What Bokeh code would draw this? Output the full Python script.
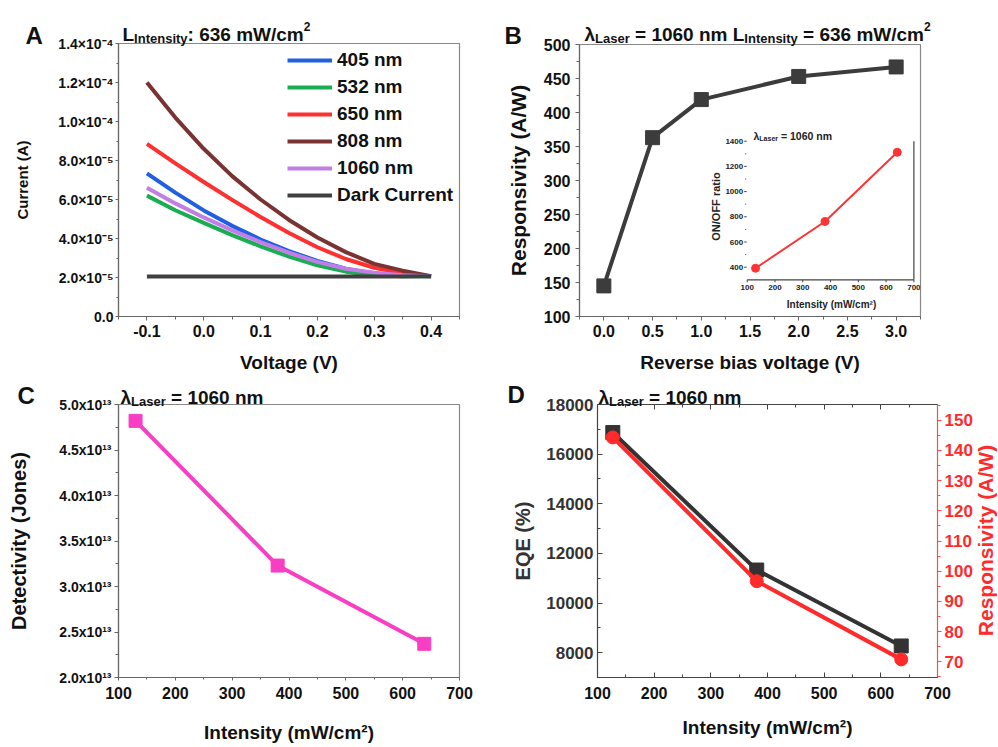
import math
from bokeh.plotting import figure
from bokeh.models import (Label, Range1d, FixedTicker, CustomJSTickFormatter,
                          LinearAxis, Legend, LegendItem, GridBox)
from bokeh.embed import file_html
from bokeh.resources import INLINE
from bokeh.core.properties import value

FONT = "Liberation Sans"

# ---------------- data ----------------
# Panel A: I-V curves at 636 mW/cm2
voltage = [-0.10, -0.05, 0.00, 0.05, 0.10, 0.15, 0.20, 0.25, 0.30, 0.35, 0.40]
current_405 = [7.34e-5, 6.35e-5, 5.44e-5, 4.65e-5, 3.95e-5, 3.35e-5, 2.85e-5, 2.45e-5, 2.20e-5, 2.10e-5, 2.07e-5]
current_532 = [6.20e-5, 5.45e-5, 4.80e-5, 4.17e-5, 3.60e-5, 3.07e-5, 2.63e-5, 2.30e-5, 2.12e-5, 2.07e-5, 2.06e-5]
current_650 = [8.85e-5, 7.85e-5, 6.90e-5, 5.98e-5, 5.10e-5, 4.28e-5, 3.55e-5, 2.95e-5, 2.50e-5, 2.22e-5, 2.07e-5]
current_808 = [1.20e-4, 1.02e-4, 8.60e-5, 7.20e-5, 6.00e-5, 4.95e-5, 4.05e-5, 3.30e-5, 2.70e-5, 2.35e-5, 2.07e-5]
current_1060 = [6.60e-5, 5.80e-5, 5.08e-5, 4.42e-5, 3.82e-5, 3.27e-5, 2.80e-5, 2.45e-5, 2.25e-5, 2.12e-5, 2.07e-5]
current_dark = [2.05e-5, 2.05e-5, 2.05e-5, 2.05e-5, 2.05e-5, 2.05e-5, 2.05e-5, 2.05e-5, 2.05e-5, 2.05e-5, 2.06e-5]
series_names = ["405 nm", "532 nm", "650 nm", "808 nm", "1060 nm", "Dark Current"]

# Panel B: responsivity vs reverse bias, inset ON/OFF ratio
bias = [0.0, 0.5, 1.0, 2.0, 3.0]
resp_bias = [145, 363, 419, 453, 467]
inset_intensity = [130, 380, 640]
onoff_ratio = [392, 763, 1312]

# Panel C: detectivity vs intensity
intensity_c = [130, 380, 638]
detectivity = [4.82e13, 3.23e13, 2.37e13]

# Panel D: EQE and responsivity vs intensity
intensity_d = [127, 381, 636]
eqe = [16870, 11330, 8270]
resp_intensity = [144.3, 96.7, 70.8]

# tick labels
a_xticks = [-0.1, 0.0, 0.1, 0.2, 0.3, 0.4]
a_xlabels = ["-0.1", "0.0", "0.1", "0.2", "0.3", "0.4"]
a_yticks = [0.0, 2e-5, 4e-5, 6e-5, 8e-5, 1e-4, 1.2e-4, 1.4e-4]
a_ylabels = ["0.0", "2.0×10⁻⁵", "4.0×10⁻⁵", "6.0×10⁻⁵", "8.0×10⁻⁵",
             "1.0×10⁻⁴", "1.2×10⁻⁴", "1.4×10⁻⁴"]
b_xticks = [0.0, 0.5, 1.0, 1.5, 2.0, 2.5, 3.0]
b_xlabels = ["0.0", "0.5", "1.0", "1.5", "2.0", "2.5", "3.0"]
b_yticks = [100, 150, 200, 250, 300, 350, 400, 450, 500]
b_ylabels = ["100", "150", "200", "250", "300", "350", "400", "450", "500"]
in_xticks = [100, 200, 300, 400, 500, 600, 700]
in_xlabels = ["100", "200", "300", "400", "500", "600", "700"]
in_yticks = [400, 600, 800, 1000, 1200, 1400]
in_ylabels = ["400", "600", "800", "1000", "1200", "1400"]
in_yminor = [500, 700, 900, 1100, 1300]
int_ticks = [100, 200, 300, 400, 500, 600, 700]
int_labels = ["100", "200", "300", "400", "500", "600", "700"]
c_yticks = [2.0e13, 2.5e13, 3.0e13, 3.5e13, 4.0e13, 4.5e13, 5.0e13]
c_ylabels = ["2.0x10¹³", "2.5x10¹³", "3.0x10¹³", "3.5x10¹³", "4.0x10¹³", "4.5x10¹³", "5.0x10¹³"]
d_yticks = [8000, 10000, 12000, 14000, 16000, 18000]
d_ylabels = ["8000", "10000", "12000", "14000", "16000", "18000"]
d_rticks = [70, 80, 90, 100, 110, 120, 130, 140, 150]
d_rlabels = ["70", "80", "90", "100", "110", "120", "130", "140", "150"]

# ---------------- layout constants ----------------
A_X, A_Y = (-0.15, 0.45), (0.0, 1.4e-4)
B_X, B_Y = (-0.25, 3.25), (100, 500)
C_X, C_Y = (100, 700), (2.0e13, 5.0e13)
D_X, D_Y, D_R = (100, 700), (7000, 18000), (64.8, 155.2)

FR_A = (118, 459, 43, 316)
FR_B = (579, 920, 44, 316)
FR_C = (118, 459, 404, 677)
FR_D = (597, 937, 404, 677)
TOP_H, BOT_H, LEFT_W, RIGHT_W = 378, 368, 480, 517

W = {' ': 278, ':': 333, '=': 584, '/': 278, '(': 333, ')': 333, '.': 278,
     'A': 722, 'B': 722, 'C': 722, 'D': 722, 'E': 667, 'F': 611, 'I': 278,
     'J': 556, 'L': 611, 'N': 722, 'O': 778, 'Q': 778, 'R': 722, 'V': 667,
     'W': 944, 'a': 556, 'b': 611, 'c': 556, 'e': 556, 'g': 611, 'i': 278,
     'l': 278, 'm': 889, 'n': 611, 'o': 611, 'r': 389, 's': 556, 't': 333,
     'y': 556, 'λ': 556}


def tw(s, size):
    return sum(W.get(ch, 556) for ch in s) * size / 1000.0


def to_data(frame, xr, yr, ax, ay):
    L, R, T, B = frame
    return (xr[0] + (ax - L) * (xr[1] - xr[0]) / (R - L),
            yr[0] + (B - ay) * (yr[1] - yr[0]) / (B - T))


def add_text(p, x, y, txt, size, color="#111111", align="left",
             baseline="alphabetic", angle=0.0, **kw):
    p.add_layout(Label(x=x, y=y, text=txt, text_font=FONT, text_font_style="bold",
                       text_font_size=f"{size}px", text_color=color,
                       text_align=align, text_baseline=baseline, angle=angle, **kw))


def rich(p, x0, base, parts, color="#111111", conv=None):
    x = x0
    for txt, size, dy in parts:
        lead = len(txt) - len(txt.lstrip())
        x += tw(" " * lead, size)
        core = txt.strip()
        px, py = (x, base + dy) if conv is None else conv(x, base + dy)
        add_text(p, px, py, core, size, color=color)
        x += tw(txt.lstrip(), size)


def fmt(ticks, labels):
    return CustomJSTickFormatter(args=dict(t=list(ticks), l=list(labels)), code="""
const i = t.findIndex(v => v === tick || Math.abs(v - tick) <= 1e-9 * Math.abs(v));
return i >= 0 ? l[i] : "";
""")


def make_fig(w, h, origin, frame, xr, yr, outline="#888888"):
    ox, oy = origin
    L, R, T, B = frame
    p = figure(width=w, height=h, x_range=Range1d(*xr), y_range=Range1d(*yr),
               output_backend="svg", toolbar_location=None, tools="",
               min_border_left=L - ox, min_border_right=ox + w - R,
               min_border_top=T - oy, min_border_bottom=oy + h - B)
    p.frame_align = False
    p.grid.visible = False
    p.outline_line_color = outline
    p.outline_line_width = 1.2
    p.background_fill_color = "white"
    p.border_fill_color = "white"
    return p


def style_axis(ax, ticks, labels, minor, size, color="#111111", line="#666666",
               tin=0, tout=4, mtin=0, mtout=3, stand=4, label=None, lsize=19,
               lstand=10, lcolor=None):
    ax.ticker = FixedTicker(ticks=list(ticks), minor_ticks=list(minor))
    ax.formatter = fmt(ticks, labels)
    ax.major_label_text_font = FONT
    ax.major_label_text_font_style = "bold"
    ax.major_label_text_font_size = f"{size}px"
    ax.major_label_text_color = color
    ax.axis_line_color = line
    ax.axis_line_width = 1.2
    ax.major_tick_line_color = line
    ax.minor_tick_line_color = line
    ax.major_tick_in = tin
    ax.major_tick_out = tout
    ax.minor_tick_in = mtin
    ax.minor_tick_out = mtout
    ax.major_label_standoff = stand
    if label is not None:
        ax.axis_label = label
        ax.axis_label_text_font = FONT
        ax.axis_label_text_font_style = "bold"
        ax.axis_label_text_font_size = f"{lsize}px"
        ax.axis_label_text_color = lcolor or color
        ax.axis_label_standoff = lstand


def frange(a, b, step):
    out = []
    v = a
    while v <= b + step * 1e-6:
        out.append(round(v, 12))
        v += step
    return out


# ---------------- Panel A ----------------
pa = make_fig(LEFT_W, TOP_H, (0, 0), FR_A, A_X, A_Y)
colors_a = ["#1f5fe0", "#1aad52", "#ff3030", "#7a3333", "#c27ee6", "#404040"]
series_a = [current_405, current_532, current_650, current_808, current_1060, current_dark]
items = []
for name, ys, col in zip(series_names, series_a, colors_a):
    r = pa.line(voltage, ys, line_color=col, line_width=4, line_join="round")
    items.append(LegendItem(label=name, renderers=[r]))
leg = Legend(items=items, location=(169, 110), label_text_font=FONT,
             label_text_font_style="bold", label_text_font_size="19px",
             label_text_color="#111111", border_line_color=None,
             background_fill_alpha=0, glyph_width=45, glyph_height=22,
             label_height=22, spacing=5, padding=0, margin=0, label_standoff=5)
pa.add_layout(leg)
style_axis(pa.xaxis[0], a_xticks, a_xlabels, frange(-0.15, 0.45, 0.05), 16,
           tout=4, mtout=3, stand=4, label="Voltage (V)", lsize=19, lstand=12)
style_axis(pa.yaxis[0], a_yticks, a_ylabels, frange(0, 1.4e-4, 1e-5), 14,
           tout=3, mtout=2, stand=2, label="Current (A)", lsize=15, lstand=24)

# ---------------- Panel B ----------------
pb = make_fig(RIGHT_W, TOP_H, (LEFT_W, 0), FR_B, B_X, B_Y)
pb.line(bias, resp_bias, line_color="#3c3c3c", line_width=4)
pb.scatter(bias, resp_bias, marker="square", size=14, color="#3c3c3c")
style_axis(pb.xaxis[0], b_xticks, b_xlabels, frange(-0.25, 3.25, 0.25), 16,
           tout=4, mtout=3, stand=4, label="Reverse bias voltage (V)", lsize=19, lstand=12)
style_axis(pb.yaxis[0], b_yticks, b_ylabels, frange(100, 500, 25), 16,
           tout=4, mtout=3, stand=5, label="Responsivity (A/W)", lsize=21, lstand=11)

# inset (drawn inside panel B through extra ranges)
IN_X0, IN_X1, IN_Y0, IN_Y1 = 746.7, 913.4, 279.3, 140.7   # pixel box of inset axes
IN_XR, IN_YR = (100, 700), (300, 1400)
L, R, T, B = FR_B
upx = (IN_XR[1] - IN_XR[0]) / (IN_X1 - IN_X0)
upy = (IN_YR[1] - IN_YR[0]) / (IN_Y0 - IN_Y1)
ix = (IN_XR[0] - (IN_X0 - L) * upx, IN_XR[1] + (R - IN_X1) * upx)
iy = (IN_YR[0] - (B - IN_Y0) * upy, IN_YR[1] + (IN_Y1 - T) * upy)
pb.extra_x_ranges = {"ix": Range1d(*ix)}
pb.extra_y_ranges = {"iy": Range1d(*iy)}
kw = dict(x_range_name="ix", y_range_name="iy")
axc = "#444444"
pb.segment(x0=[IN_XR[0], IN_XR[1]], y0=[IN_YR[0], IN_YR[0]],
           x1=[IN_XR[1], IN_XR[1]], y1=[IN_YR[0], IN_YR[1]],
           line_color=axc, line_width=1.2, **kw)
pb.segment(x0=[IN_XR[0] - 3 * upx] * len(in_yticks), y0=in_yticks,
           x1=[IN_XR[0] - 0.5 * upx] * len(in_yticks), y1=in_yticks,
           line_color=axc, line_width=1, **kw)
pb.segment(x0=[IN_XR[0] - 2 * upx] * len(in_yminor), y0=in_yminor,
           x1=[IN_XR[0] - 1 * upx] * len(in_yminor), y1=in_yminor,
           line_color=axc, line_width=1, **kw)
pb.segment(x0=in_xticks, y0=[IN_YR[0]] * len(in_xticks),
           x1=in_xticks, y1=[IN_YR[0] - 2.5 * upy] * len(in_xticks),
           line_color=axc, line_width=1, **kw)
pb.text(x=[IN_XR[0] - 4 * upx] * len(in_yticks), y=in_yticks, text=in_ylabels,
        text_font=value(FONT), text_font_style="bold", text_font_size="8px",
        text_color="#222222", text_align="right", text_baseline="middle", **kw)
pb.text(x=in_xticks, y=[IN_YR[0] - 8 * upy] * len(in_xticks), text=in_xlabels,
        text_font=value(FONT), text_font_style="bold", text_font_size="8px",
        text_color="#222222", text_align="center", text_baseline="middle", **kw)
pb.line(inset_intensity, onoff_ratio, line_color="#ff3333", line_width=2, **kw)
pb.scatter(inset_intensity, onoff_ratio, marker="circle", size=8, color="#ff3333", **kw)
convb = lambda ax_, ay_: to_data(FR_B, B_X, B_Y, ax_, ay_)
x_, y_ = convb(715, 206)
add_text(pb, x_, y_, "ON/OFF ratio", 11, color="#222222", align="center",
         baseline="middle", angle=math.pi / 2)
x_, y_ = convb(831, 304)
add_text(pb, x_, y_, "Intensity (mW/cm²)", 10, color="#222222", align="center",
         baseline="middle")
rich(pb, 753, 135, [("λ", 10.5, 0), ("Laser", 7, 2.5), (" = 1060 nm", 10.5, 0)],
     color="#222222", conv=convb)

# ---------------- Panel C ----------------
pc = make_fig(LEFT_W, BOT_H, (0, TOP_H), FR_C, C_X, C_Y)
pc.line(intensity_c, detectivity, line_color="#f83fc4", line_width=4)
pc.scatter(intensity_c, detectivity, marker="square", size=13, color="#f83fc4")
style_axis(pc.xaxis[0], int_ticks, int_labels, frange(100, 700, 50), 16,
           tout=3, mtout=2, stand=6, label="Intensity (mW/cm²)", lsize=19, lstand=20)
style_axis(pc.yaxis[0], c_yticks, c_ylabels, frange(2.0e13, 5.0e13, 0.25e13), 14,
           tout=4, mtout=3, stand=3, label="Detectivity (Jones)", lsize=20, lstand=26)

# ---------------- Panel D ----------------
pd_ = make_fig(RIGHT_W, BOT_H, (LEFT_W, TOP_H), FR_D, D_X, D_Y, outline=None)
pd_.extra_y_ranges = {"r": Range1d(*D_R)}
pd_.line(intensity_d, eqe, line_color="#333333", line_width=4)
pd_.scatter(intensity_d, eqe, marker="square", size=14, color="#333333")
pd_.line(intensity_d, resp_intensity, line_color="#ff2b2b", line_width=4, y_range_name="r")
pd_.scatter(intensity_d, resp_intensity, marker="circle", size=13, color="#ff2b2b",
            y_range_name="r")
style_axis(pd_.xaxis[0], int_ticks, int_labels, frange(100, 700, 50), 16,
           line="#444444", tin=5, tout=0, mtin=3, mtout=0, stand=9,
           label="Intensity (mW/cm²)", lsize=19, lstand=15)
style_axis(pd_.yaxis[0], d_yticks, d_ylabels, frange(7000, 18000, 1000), 17,
           color="#333333", line="#444444", tin=5, tout=0, mtin=3, mtout=0, stand=4,
           label="EQE (%)", lsize=20, lstand=9)
top_ax = LinearAxis()
style_axis(top_ax, int_ticks, ["" for _ in int_labels], frange(100, 700, 50), 1,
           line="#444444", tin=5, tout=0, mtin=3, mtout=0, stand=0)
pd_.add_layout(top_ax, "above")
right_ax = LinearAxis(y_range_name="r")
style_axis(right_ax, d_rticks, d_rlabels, frange(65, 155, 5), 17,
           color="#ff2b2b", line="#ff4a4a", tin=0, tout=4, mtin=0, mtout=3, stand=3)
pd_.add_layout(right_ax, "right")

# ---------------- overlay for texts outside the plot frames ----------------
TOT_W, TOT_H = LEFT_W + RIGHT_W, TOP_H + BOT_H
ov = figure(width=TOT_W, height=TOT_H, x_range=Range1d(0, TOT_W),
            y_range=Range1d(TOT_H, 0), output_backend="svg", toolbar_location=None,
            tools="", x_axis_type=None, y_axis_type=None,
            min_border=0, min_border_left=0, min_border_right=0,
            min_border_top=0, min_border_bottom=0)
ov.frame_align = False
ov.grid.visible = False
ov.outline_line_color = None
ov.background_fill_color = None
ov.border_fill_color = None

add_text(ov, 25, 35, "A", 24)
rich(ov, 122, 34, [("L", 19, 0), ("Intensity", 13, 4), (": 636 mW/cm", 19, 0), ("2", 12, -8)])
add_text(ov, 504, 35, "B", 24)
rich(ov, 584, 34, [("λ", 19, 0), ("Laser", 13, 4), (" = 1060 nm L", 19, 0),
                   ("Intensity", 13, 4), (" = 636 mW/cm", 19, 0), ("2", 12, -8)])
add_text(ov, 17, 395, "C", 24)
rich(ov, 120, 397, [("λ", 19, 0), ("Laser", 13, 4), (" = 1060 nm", 19, 0)])
add_text(ov, 507, 394, "D", 24)
rich(ov, 598, 397, [("λ", 19, 0), ("Laser", 13, 4), (" = 1060 nm", 19, 0)])
add_text(ov, 985, 540, "Responsivity (A/W)", 21, color="#ff2b2b", align="center",
         baseline="middle", angle=math.pi / 2)

layout = GridBox(children=[(pa, 0, 0), (pb, 0, 1), (pc, 1, 0), (pd_, 1, 1),
                           (ov, 0, 0, 2, 2)], spacing=0)
open("out.html", "w").write(file_html(layout, INLINE))
